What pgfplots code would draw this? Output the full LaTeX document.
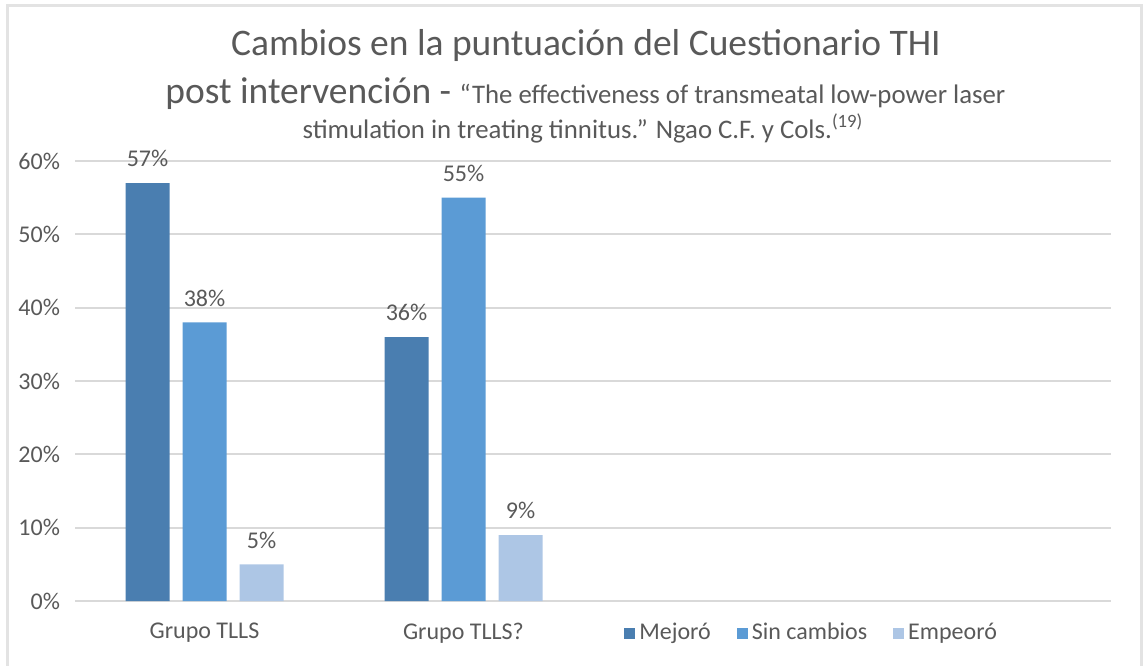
\documentclass[border=0pt]{standalone}
\usepackage{pgfplots}
\pgfplotsset{compat=1.18}
\usepackage{fontspec}
\setmainfont{Carlito}

\definecolor{txt}{HTML}{595959}
\definecolor{gridc}{HTML}{D9D9D9}
\definecolor{frame}{HTML}{E3E3E3}
\definecolor{cmej}{HTML}{4A7EB0}
\definecolor{csin}{HTML}{5B9BD5}
\definecolor{cemp}{HTML}{ADC6E5}

\begin{document}
\begin{tikzpicture}[x=0.5pt,y=0.5pt]
  % picture is laid out in reference pixels, 1px = 0.5pt
  \useasboundingbox (0,0) rectangle (1143,666);
  \draw[frame,line width=1.2pt] (7.5,0) -- (7.5,660.5) -- (1141.5,660.5) -- (1141.5,0);

  \begin{axis}[
      at={(37.5pt,32.5pt)}, anchor=south west,
      scale only axis,
      width=518pt, height=220pt,
      ybar=6.5pt, bar width=22pt,
      xmin=-0.5, xmax=3.5,
      ymin=0, ymax=60,
      xtick={0,1}, xticklabels={Grupo TLLS, Grupo TLLS?},
      ytick={0,10,...,60},
      yticklabel={\pgfmathprintnumber{\tick}\%},
      /pgf/number format/assume math mode=true,
      axis line style={draw=none},
      major tick length=0pt,
      ymajorgrids, grid style={gridc,line width=0.9pt},
      tick label style={font=\fontsize{12}{14}\selectfont,text=txt},
      xticklabel style={yshift=-7.5pt},
      yticklabel style={xshift=-4pt},
      nodes near coords={\pgfmathprintnumber{\pgfplotspointmeta}\%},
      every node near coord/.append style={font=\fontsize{12}{14}\selectfont,text=txt,yshift=4.5pt},
      legend style={at={(0.712,-0.073)}, anchor=center, draw=none, fill=none,
        legend columns=-1, font=\fontsize{12}{14}\selectfont, text=txt,
        /tikz/every even column/.append style={column sep=11pt}},
      legend image code/.code={\fill[#1] (0pt,-2.75pt) rectangle (5.5pt,2.75pt);},
      clip=false,
    ]
    \addplot[fill=cmej,draw=none] coordinates {(0,57) (1,36)};
    \addlegendentry{Mejoró}
    \addplot[fill=csin,draw=none] coordinates {(0,38) (1,55)};
    \addlegendentry{Sin cambios}
    \addplot[fill=cemp,draw=none] coordinates {(0,5) (1,9)};
    \addlegendentry{Empeoró}
  \end{axis}

  \node[text=txt,font=\fontsize{18.75}{20}\selectfont] at (586,666-46) {Cambios en la puntuación del Cuestionario THI};
  \node[text=txt,anchor=base west,inner sep=0pt] at (165,666-103)
    {\fontsize{18.75}{20}\selectfont post intervención - \fontsize{13.4}{15}\selectfont “The effectiveness of transmeatal low-power laser};
  \node[text=txt,anchor=base,inner sep=0pt,font=\fontsize{13.4}{15}\selectfont] at (583,666-138)
    {stimulation in treating tinnitus.” Ngao C.F. y Cols.\textsuperscript{(19)}};
\end{tikzpicture}
\end{document}
